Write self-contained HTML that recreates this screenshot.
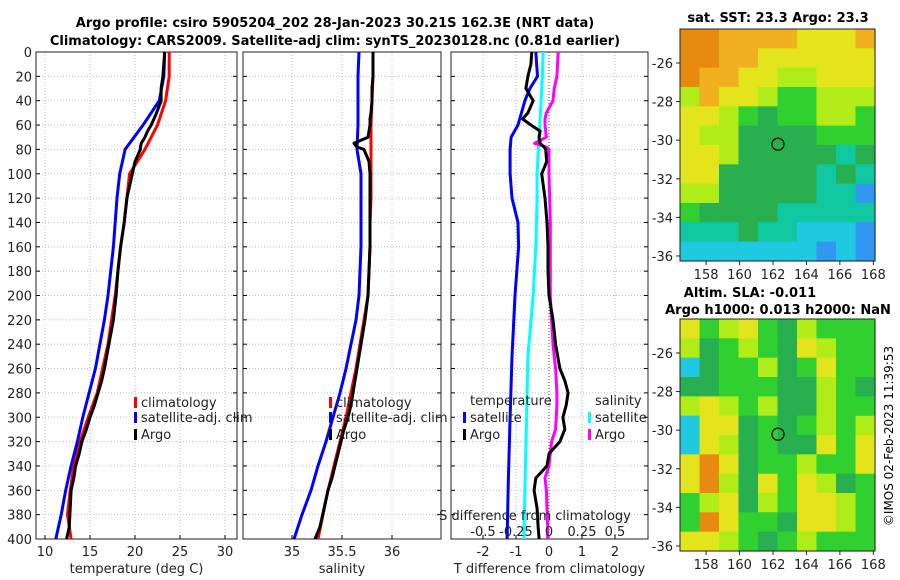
<!DOCTYPE html>
<html><head><meta charset="utf-8"><style>
html,body{margin:0;padding:0;background:#fff;}
svg{display:block;font-family:"DejaVu Sans","Liberation Sans",sans-serif;}
</style></head><body>
<svg id="chart" width="900" height="580" viewBox="0 0 900 580" xmlns="http://www.w3.org/2000/svg">
<text x="335" y="27" text-anchor="middle" font-size="13" font-weight="bold">Argo profile: csiro 5905204_202 28-Jan-2023 30.21S 162.3E (NRT data)</text>
<text x="335" y="45" text-anchor="middle" font-size="13" font-weight="bold">Climatology: CARS2009. Satellite-adj clim: synTS_20230128.nc (0.81d earlier)</text>
<text x="778" y="22" text-anchor="middle" font-size="13" font-weight="bold">sat. SST: 23.3 Argo: 23.3</text>
<text x="750" y="297" text-anchor="middle" font-size="13" font-weight="bold">Altim. SLA: -0.011</text>
<text x="778" y="314" text-anchor="middle" font-size="13" font-weight="bold">Argo h1000: 0.013 h2000: NaN</text>
<text transform="translate(893,436) rotate(-90)" text-anchor="middle" font-size="12">©IMOS 02-Feb-2023 11:39:53</text>
<g id="g"></g>
</svg>
<script>
// ---------- data ----------
const depthTicks = [0,20,40,60,80,100,120,140,160,180,200,220,240,260,280,300,320,340,360,380,400];
const tempTicks = [10,15,20,25,30];
const salTicks = [35,35.5,36];
const tdiffTicks = [-2,-1,0,1,2];
const sdiffTickLabels = ['-0.5','-0.25','0','0.25','0.5'];
const sdiffTicks = [-0.5,-0.25,0,0.25,0.5];

const climDepth = [0,20,40,60,80,100,120,140,160,180,200,220,240,260,280,300,320,340,360,380,400];
const climTemp = [23.8,23.8,23.4,22.5,21.1,19.4,19.1,18.8,18.4,18.1,17.8,17.4,17.0,16.4,15.8,14.8,13.9,13.2,12.8,12.5,12.9];
const satTemp  = [23.3,23.2,22.7,20.9,18.9,18.3,18.0,17.8,17.6,17.3,17.0,16.6,16.1,15.6,14.9,14.2,13.6,12.9,12.3,11.8,11.2];
const climSal  = [35.81,35.81,35.80,35.79,35.79,35.79,35.79,35.78,35.78,35.77,35.76,35.72,35.68,35.64,35.59,35.54,35.48,35.42,35.36,35.31,35.26];
const satSal   = [35.67,35.66,35.66,35.66,35.65,35.69,35.69,35.69,35.69,35.68,35.67,35.64,35.59,35.54,35.48,35.41,35.34,35.26,35.19,35.10,35.02];

const argoDepth = [0,10,20,30,40,50,55,60,65,70,75,78,80,90,100,120,140,160,180,200,220,240,260,270,280,290,300,310,320,330,340,350,360,375,390,400];
const argoTemp  = [23.3,23.2,23.1,22.9,22.9,22.4,22.1,21.8,21.4,21.1,20.7,20.6,20.6,20.0,19.7,19.1,18.8,18.4,18.1,17.9,17.6,17.1,16.6,16.3,15.9,15.5,15.0,14.6,14.1,13.8,13.4,13.2,12.9,12.8,12.7,12.4];
const argoSal   = [35.81,35.81,35.81,35.80,35.80,35.79,35.78,35.78,35.77,35.76,35.62,35.65,35.72,35.77,35.78,35.78,35.78,35.78,35.77,35.76,35.73,35.69,35.65,35.63,35.61,35.59,35.56,35.52,35.49,35.46,35.43,35.40,35.36,35.32,35.28,35.23];
const argoTdiff = [-0.52,-0.55,-0.64,-0.70,-0.48,-0.64,-0.80,-0.55,-0.27,-0.30,-0.27,-0.15,-0.10,-0.07,-0.22,-0.12,-0.06,-0.03,-0.03,0.0,0.12,0.2,0.33,0.48,0.58,0.52,0.42,0.48,0.33,0.0,-0.06,-0.40,-0.45,-0.36,-0.33,-0.30];
const argoSdiff = [0.07,0.065,0.06,0.04,0.03,-0.02,-0.03,-0.03,-0.025,-0.02,-0.11,-0.02,0.0,0.0,0.0,0.005,0.01,0.01,0.01,0.01,0.02,0.03,0.05,0.055,0.06,0.06,0.055,0.05,0.02,0.01,0.0,-0.03,-0.02,-0.015,-0.01,-0.01];

const satDiffDepth = [0,20,30,40,60,70,80,100,120,140,160,200,250,300,350,400];
const satTdiff = [-0.40,-0.35,-0.58,-0.73,-0.94,-1.15,-1.18,-1.18,-1.12,-0.94,-0.92,-1.03,-1.12,-1.18,-1.23,-1.27];
const satSdiff = [-0.045,-0.05,-0.055,-0.06,-0.07,-0.075,-0.08,-0.09,-0.09,-0.095,-0.10,-0.12,-0.16,-0.17,-0.18,-0.19];

const latTicks = [-26,-28,-30,-32,-34,-36];
const lonTicks = [158,160,162,164,166,168];
const argoLat = -30.21, argoLon = 162.3;
const sstGrid = [
"OOooooYYYo","OOooYYYYYY","OooYYLLYYY","LoYYLGGLLL","YYLGgGGLLG","YLLggggGGG",
"YYLgggggTg","YYgggggTgT","LLgggggTTB","GggggTTTTT","TTTgTTCCCB","CCCCCCCBCB"];
const slaGrid = [
"YGLYGgLGGG","LgGLGgYLGG","CgGGLgGYGG","ggGGGggLGg","LYLGLggLGG","CYYgGgGLGL",
"CYLgGggYGY","YOYgGGLGGY","YOLgYGYLgG","GLYgLGYYLG","GOYGGgYYLG","YYLGgGLGGG"];

// ---------- helpers ----------
const NS='http://www.w3.org/2000/svg';
const root=document.getElementById('g');
function mk(tag,attrs,parent){const e=document.createElementNS(NS,tag);for(const k in attrs)e.setAttribute(k,attrs[k]);(parent||root).appendChild(e);return e;}
const Y0=52, YS=487/400;
const yD=d=>Y0+d*YS;
const xT=t=>45+9*(t-10);
const xS=s=>292+100*(s-35);
const xTd=t=>549+33*t;
const xSd=s=>549+132*s;

function panel(name,x0,x1,vticks,xf,labels,xlabel,showY){
  const g=mk('g',{});
  
  
  depthTicks.forEach(d=>{const l=mk('line',{x1:x0,x2:x1,y1:yD(d),y2:yD(d),stroke:'#b4c0e0','stroke-width':1,'stroke-dasharray':'1,2'},g);
    
    mk('line',{x1:x0,x2:x0+4,y1:yD(d),y2:yD(d),stroke:'#000'},g);mk('line',{x1:x1-4,x2:x1,y1:yD(d),y2:yD(d),stroke:'#000'},g);
    if(showY){const t=mk('text',{x:x0-4,y:yD(d)+5,'text-anchor':'end','font-size':13,fill:'#222'},g);t.textContent=d;
      }
  });
  vticks.forEach((v,i)=>{const x=xf(v);
    const l=mk('line',{x1:x,x2:x,y1:Y0,y2:yD(400),stroke:'#b4c0e0','stroke-dasharray':'1,2'},g);
    
    mk('line',{x1:x,x2:x,y1:yD(400),y2:yD(400)-4,stroke:'#000'},g);
    const t=mk('text',{x:x,y:556,'text-anchor':'middle','font-size':13,fill:'#222'},g);t.textContent=labels?labels[i]:v;
    
  });
  const r=mk('rect',{x:x0,y:Y0,width:x1-x0,height:yD(400)-Y0,fill:'none',stroke:'#222','stroke-width':1},g);
  
  const t=mk('text',{x:(x0+x1)/2,y:573,'text-anchor':'middle','font-size':13,fill:'#222'},g);t.textContent=xlabel;
  
}
function line(name,xs,ds,xf,color){
  const pts=xs.map((v,i)=>xf(v).toFixed(1)+','+yD(ds[i]).toFixed(1)).join(' ');
  const p=mk('polyline',{points:pts,fill:'none',stroke:color,'stroke-width':3,'stroke-linejoin':'round'});
  
  
}
function legendEntry(name,x,y,color,label){
  const g=mk('g',{});
  
  
  if(color)mk('rect',{x:x,y:y-10,width:3,height:11,fill:color},g);
  const t=mk('text',{x:x+(color?7:0),y:y,'font-size':13,fill:'#222'},g);t.textContent=label;
}

// ---------- panels ----------
panel('temperature-panel',36,237,tempTicks,xT,null,'temperature (deg C)',true);
panel('salinity-panel',243,441,salTicks,xS,null,'salinity',false);
panel('difference-panel',451,648,tdiffTicks,xTd,null,'T difference from climatology',false);
const zl=mk('line',{x1:549,x2:549,y1:Y0,y2:yD(400),stroke:'#444','stroke-dasharray':'1,2'});



line('temp-climatology',climTemp,climDepth,xT,'#ff0000');
line('temp-satellite-adj',satTemp,climDepth,xT,'#0000ff');
line('temp-argo',argoTemp,argoDepth,xT,'#000');
line('sal-climatology',climSal,climDepth,xS,'#ff0000');
line('sal-satellite-adj',satSal,climDepth,xS,'#0000ff');
line('sal-argo',argoSal,argoDepth,xS,'#000');
line('tdiff-satellite',satTdiff,satDiffDepth,xTd,'#0000ff');
line('sdiff-satellite',satSdiff,satDiffDepth,xSd,'#00ffff');
line('sdiff-argo',argoSdiff,argoDepth,xSd,'#ff00ff');
line('tdiff-argo',argoTdiff,argoDepth,xTd,'#000');

legendEntry('legend-climatology',134,407,'#ff0000','climatology');
legendEntry('legend-satellite-adj',134,422,'#0000ff','satellite-adj. clim');
legendEntry('legend-argo',134,439,'#000','Argo');
legendEntry('legend-sal-climatology',329,407,'#ff0000','climatology');
legendEntry('legend-sal-satellite-adj',329,422,'#0000ff','satellite-adj. clim');
legendEntry('legend-sal-argo',329,439,'#000','Argo');
legendEntry('legend-temperature-header',470,405,null,'temperature');
legendEntry('legend-tdiff-satellite',463,422,'#0000ff','satellite');
legendEntry('legend-tdiff-argo',463,439,'#000','Argo');
legendEntry('legend-salinity-header',595,405,null,'salinity');
legendEntry('legend-sdiff-satellite',588,422,'#00ffff','satellite');
legendEntry('legend-sdiff-argo',588,439,'#ff00ff','Argo');
const st=mk('text',{x:535,y:520,'text-anchor':'middle','font-size':13,fill:'#222'});st.textContent='S difference from climatology';


sdiffTicks.forEach((v,i)=>{const t=mk('text',{x:xSd(v),y:536,'text-anchor':'middle','font-size':13,fill:'#222'});t.textContent=sdiffTickLabels[i];
  
  });

// ---------- maps ----------
const pal={O:'#e88a10',o:'#f0b020',Y:'#e4e41c',L:'#b0ec18',G:'#30d030',g:'#28b050',T:'#10c8a0',C:'#20c8e0',B:'#3098f0'};
const LON0=156.44,LON1=168.1,LAT0=-24.24,LAT1=-36.26;
function map(name,grid,top,bottom){
  const left=680,right=875;
  const xL=lo=>left+(lo-LON0)/(LON1-LON0)*(right-left);
  const yL=la=>top+(la-LAT0)/(LAT1-LAT0)*(bottom-top);
  const g=mk('g',{});
  
  
  const rows=grid.length,cols=grid[0].length,cw=(right-left)/cols,ch=(bottom-top)/rows;
  grid.forEach((row,r)=>{for(let c=0;c<cols;c++){
    const cell=mk('rect',{x:left+c*cw,y:top+r*ch,width:cw+0.6,height:ch+0.6,fill:pal[row[c]]},g);
    
    }});
  mk('rect',{x:left,y:top,width:right-left,height:bottom-top,fill:'none',stroke:'#222'},g);
  latTicks.forEach(la=>{const y=yL(la);mk('line',{x1:left-4,x2:left,y1:y,y2:y,stroke:'#222'},g);
    const t=mk('text',{x:left-7,y:y+5,'text-anchor':'end','font-size':13,fill:'#222'},g);t.textContent=la;
    });
  lonTicks.forEach(lo=>{const x=xL(lo);mk('line',{x1:x,x2:x,y1:bottom,y2:bottom+4,stroke:'#222'},g);
    const t=mk('text',{x:x,y:bottom+18,'text-anchor':'middle','font-size':13,fill:'#222'},g);t.textContent=lo;
    });
  const c=mk('circle',{cx:xL(argoLon),cy:yL(argoLat),r:6,fill:'none',stroke:'#000','stroke-width':1.2},g);
  
  
}
map('sst-map',sstGrid,29,261);
map('sla-map',slaGrid,319,551);
</script>
</body></html>
